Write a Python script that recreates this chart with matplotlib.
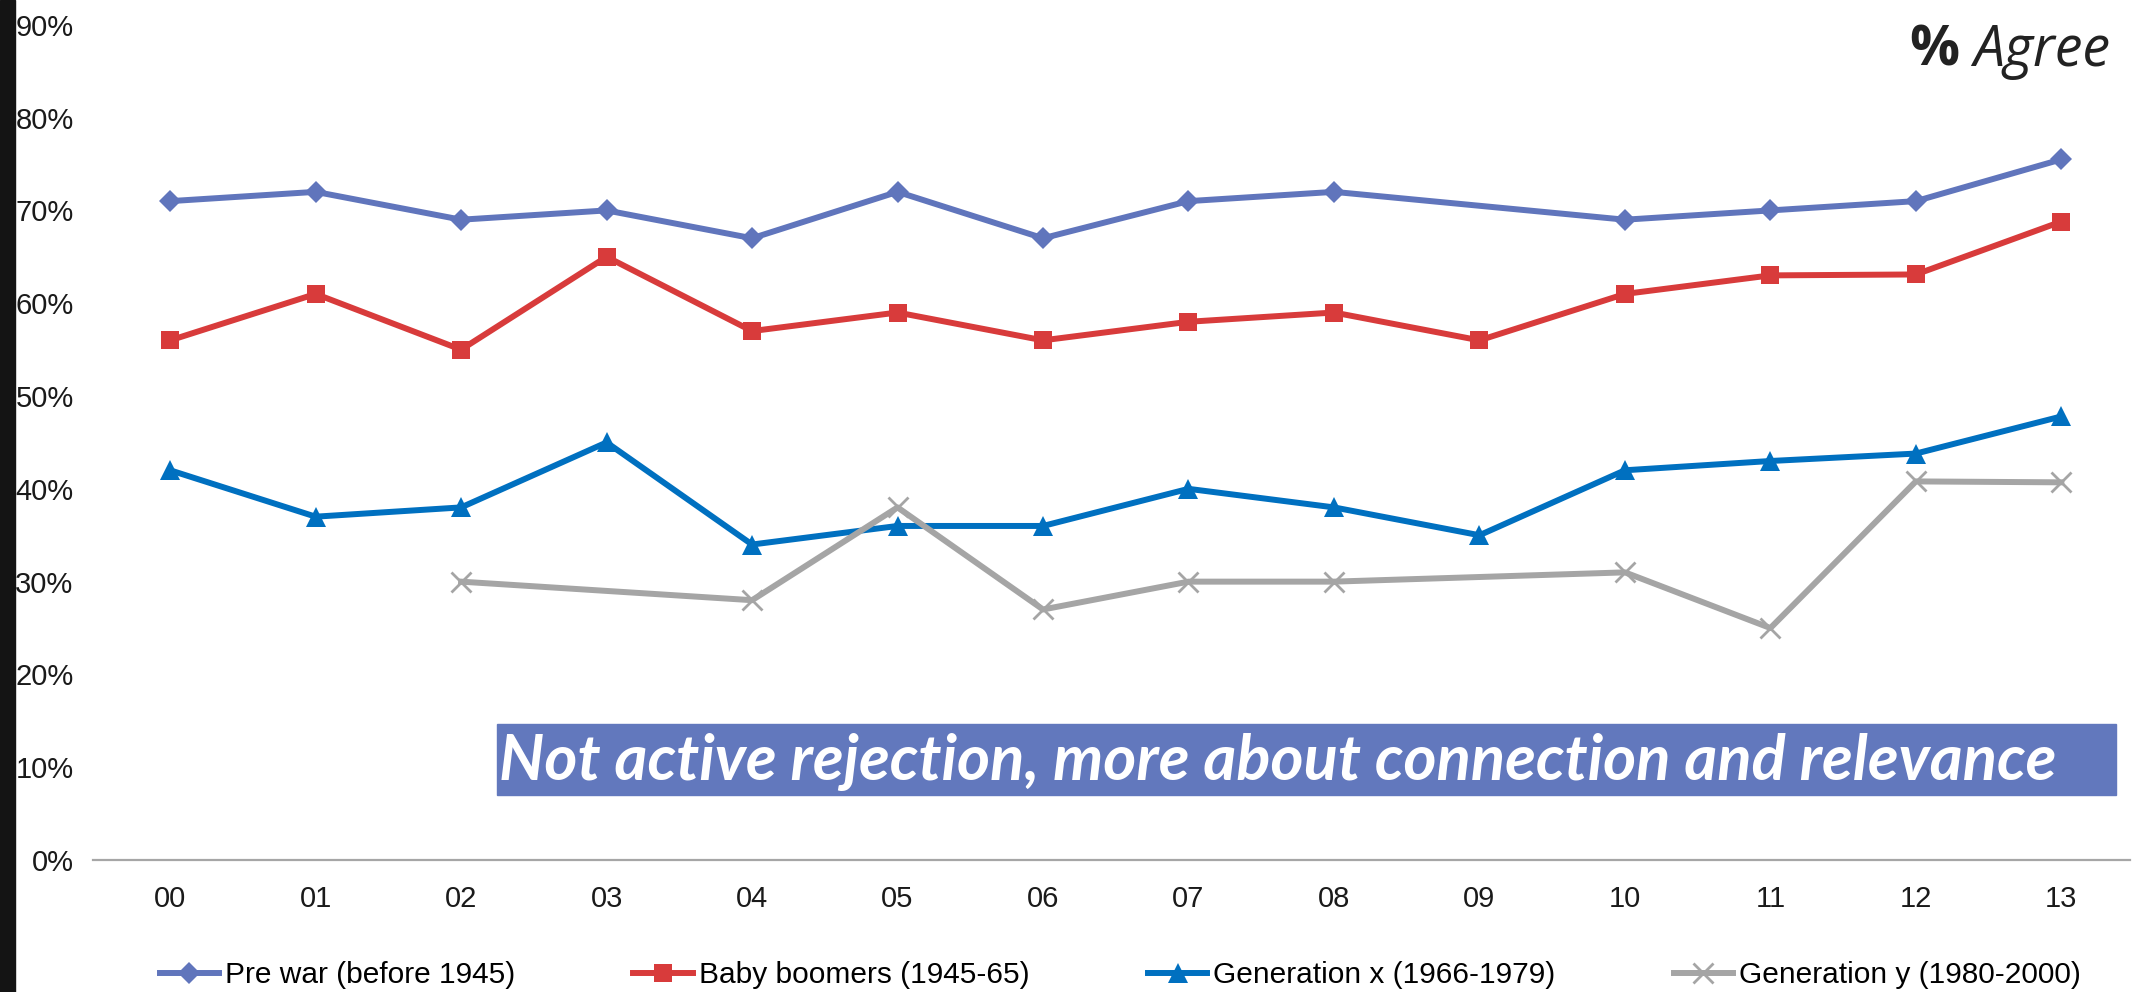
import numpy as np
import matplotlib.pyplot as plt
from matplotlib.ticker import PercentFormatter

# Chart data (share agreeing, by survey year)
years = ['00', '01', '02', '03', '04', '05', '06', '07', '08', '09', '10', '11', '12', '13']
nan = np.nan
pre_war = [71, 72, 69, 70, 67, 72, 67, 71, 72, nan, 69, 70, 71, 75.5]
boomers = [56, 61, 55, 65, 57, 59, 56, 58, 59, 56, 61, 63, 63.1, 68.8]
gen_x = [42, 37, 38, 45, 34, 36, 36, 40, 38, 35, 42, 43, 43.8, 47.8]
gen_y = [nan, nan, 30, nan, 28, 38, 27, 30, 30, nan, 31, 25, 40.8, 40.7]

labels = ['Pre war (before 1945)', 'Baby boomers (1945-65)',
          'Generation x (1966-1979)', 'Generation y (1980-2000)']
colors = ['#6075BC', '#D83B3B', '#0070C0', '#A5A5A5']
markers = ['D', 's', '^', 'x']
msizes = [11, 13, 14, 14]

plt.rcParams['font.family'] = ['Liberation Sans', 'DejaVu Sans']

fig = plt.figure(figsize=(21.34, 9.92), dpi=100)
ax = fig.add_axes([0.0436, 0.133, 0.9544, 0.842])

x = np.arange(len(years))
series = [pre_war, boomers, gen_x, gen_y]
for vals, lab, col, mk, ms in zip(series, labels, colors, markers, msizes):
  v = np.array(vals, dtype=float) / 100
  ok = ~np.isnan(v)
  ax.plot(x[ok], v[ok], color=col, lw=4.3, marker=mk, ms=ms,
    mew=2 if mk == 'x' else 0, mec=col, label=lab)

ax.set_xlim(-0.53, 13.47)
ax.set_ylim(0, 0.9)
ax.set_yticks(np.arange(0, 0.91, 0.1))
ax.yaxis.set_major_formatter(PercentFormatter(1.0, decimals=0))
ax.set_xticks(x)
ax.set_xticklabels(years)
ax.tick_params(length=0, labelsize=21, colors='#1a1a1a', pad=18)
ax.tick_params(axis='y', pad=14)
for s in ['top', 'right', 'left']:
  ax.spines[s].set_visible(False)
ax.spines['bottom'].set_color('#A6A6A6')
ax.spines['bottom'].set_linewidth(1.6)

# dark strip on the left edge
fig.patches.append(plt.Rectangle((0, 0), 15 / 2134, 1, transform=fig.transFigure,
  color='#141414', zorder=0))

fig.legend(loc='center', bbox_to_anchor=(0.525, 1 - 975 / 992), ncol=4,
  frameon=False, fontsize=21.5, handlelength=2.0, handletextpad=0.2,
  columnspacing=3.95)

# top-right note
agree = fig.text(2110 / 2134, 1 - 66 / 992, 'Agree', fontsize=40, ha='right',
  va='baseline', family='Open Sans', style='italic', color='#222222')
fig.canvas.draw()
bb = agree.get_window_extent()
fig.text((bb.x0 - 14) / 2134, 1 - 66 / 992, '%', fontsize=40, ha='right',
  va='baseline', family='Open Sans', weight='bold', color='#222222')

# banner
fig.patches.append(plt.Rectangle((497 / 2134, 1 - 795 / 992), (2116 - 497) / 2134,
  71 / 992, transform=fig.transFigure, color='#6278BD', zorder=3))
fig.text(499 / 2134, 1 - 762 / 992,
  'Not active rejection, more about connection and relevance',
  fontsize=45.5, family='Lato', weight='bold', style='italic', color='white',
  ha='left', va='center', zorder=4)

fig.savefig('out.png', dpi=100)
